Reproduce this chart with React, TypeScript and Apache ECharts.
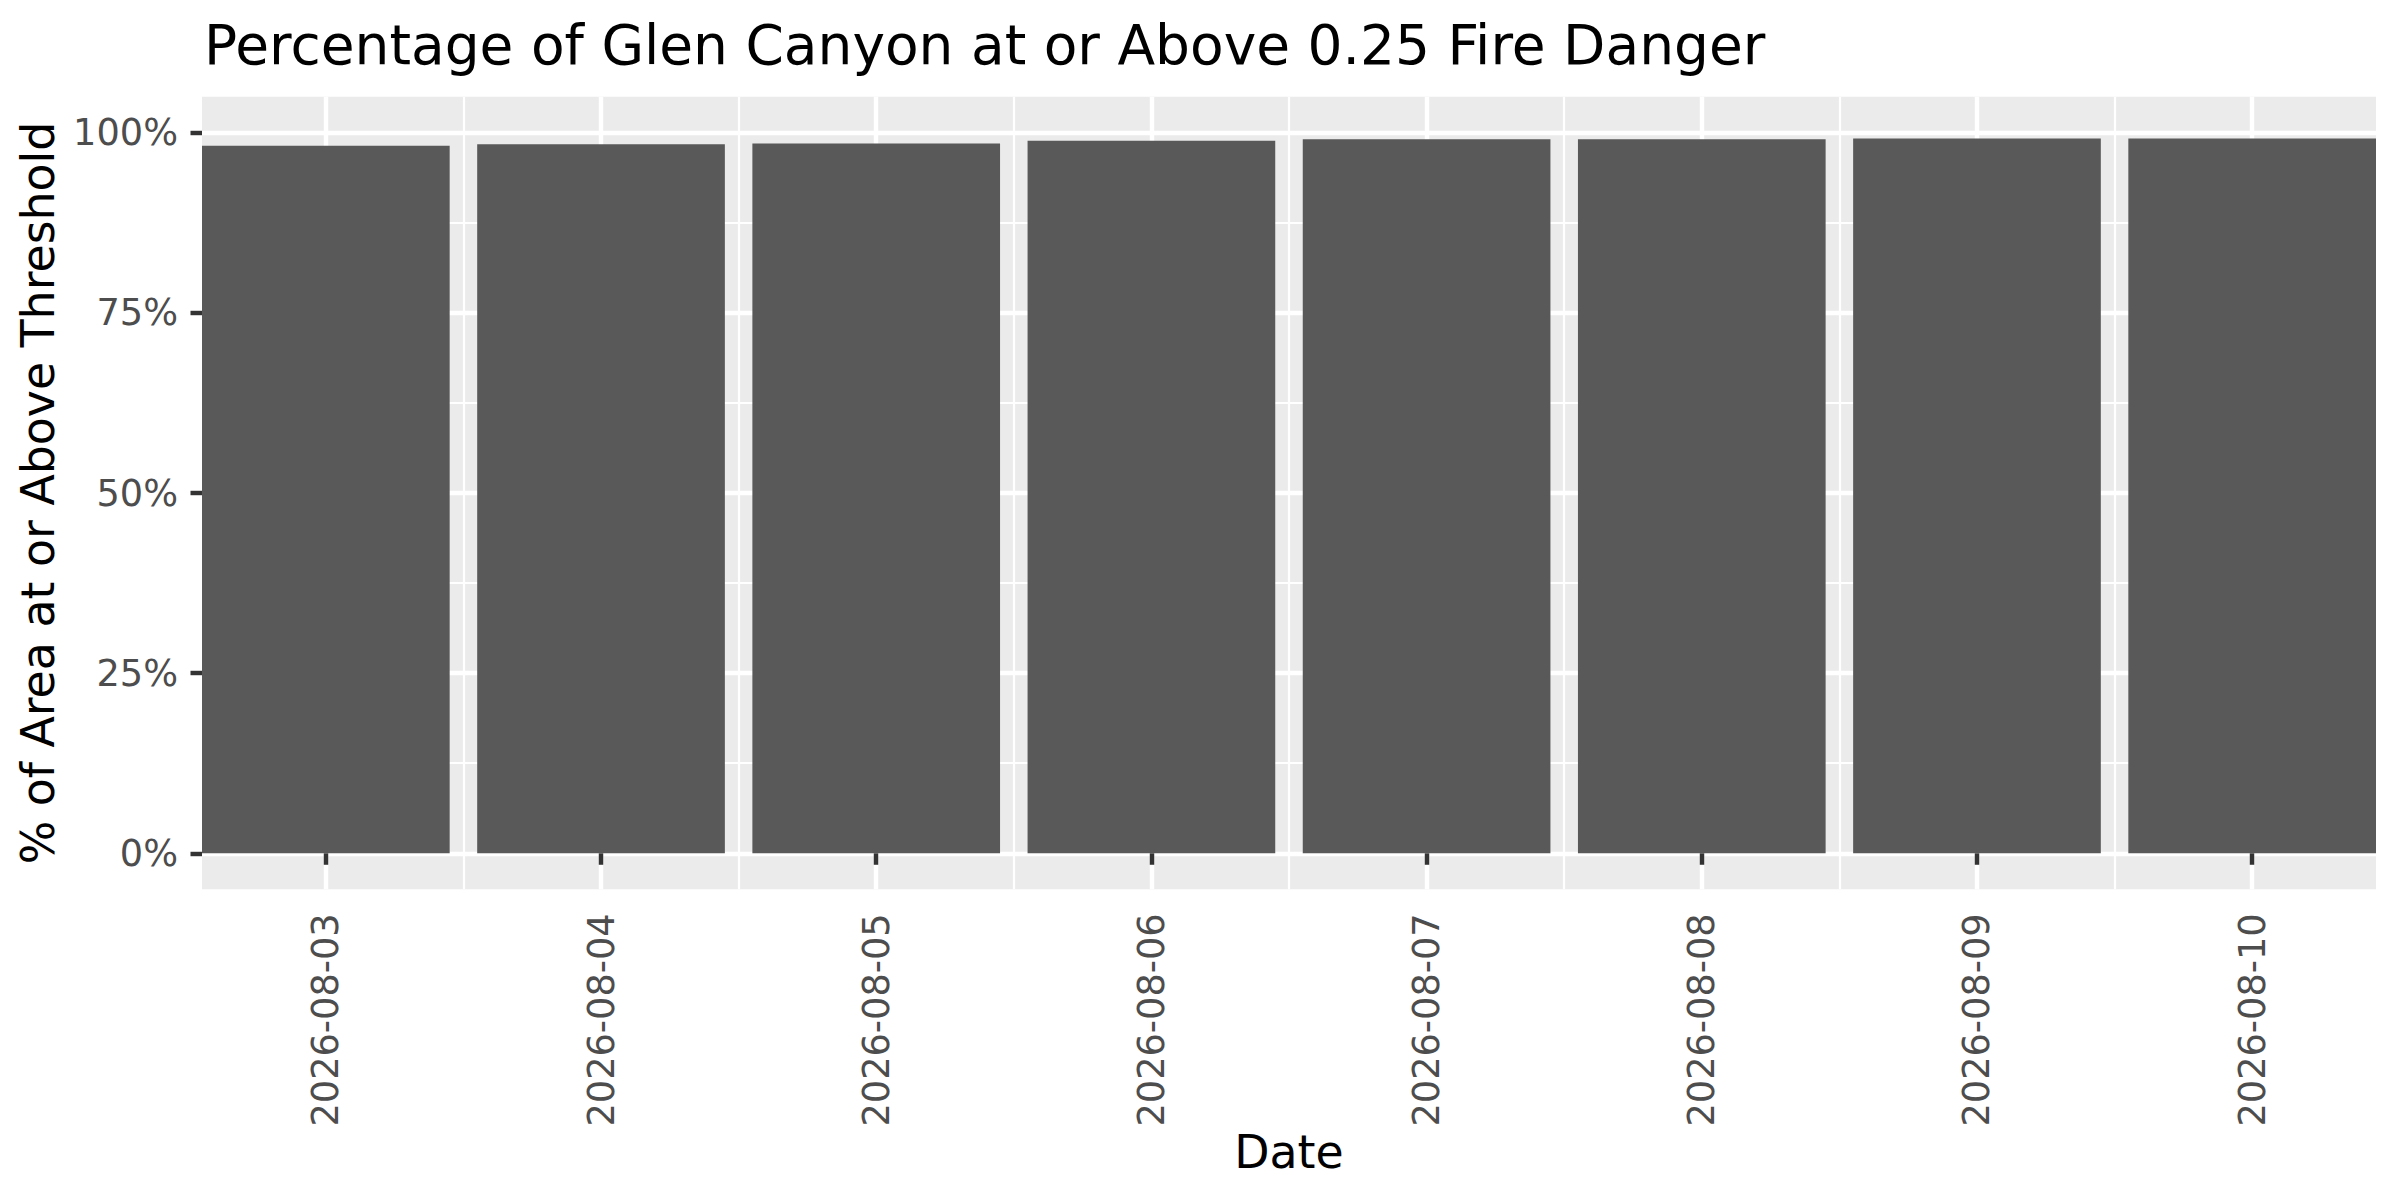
import React, { useEffect, useRef } from "react";
import * as echarts from "echarts";

const dates = [
  "2026-08-03",
  "2026-08-04",
  "2026-08-05",
  "2026-08-06",
  "2026-08-07",
  "2026-08-08",
  "2026-08-09",
  "2026-08-10",
];
const pctValues = [98.2, 98.4, 98.5, 98.9, 99.1, 99.1, 99.2, 99.2];
const yTickValues = [0, 25, 50, 75, 100];
const titleText = "Percentage of Glen Canyon at or Above 0.25 Fire Danger";
const xTitle = "Date";
const yTitle = "% of Area at or Above Threshold";

const FONT = "'DejaVu Sans', sans-serif";

export default function App() {
  const ref = useRef<HTMLDivElement>(null);
  useEffect(() => {
    if (!ref.current) return;
    const chart = echarts.init(ref.current, null, { renderer: "svg" });
    const positions = dates.map((_, i) => i + 1);
    chart.setOption({
      animation: false,
      backgroundColor: "#FFFFFF",
      title: {
        text: titleText,
        left: 199,
        top: 12,
        textStyle: { fontFamily: FONT, fontSize: 55, fontWeight: "normal", color: "#000000" },
      },
      grid: {
        left: 202,
        right: 24,
        top: 96.7,
        bottom: 310.7,
        show: true,
        backgroundColor: "#EBEBEB",
        borderWidth: 0,
      },
      xAxis: {
        type: "value",
        min: 0.55,
        max: 8.45,
        minInterval: 1,
        maxInterval: 1,
        axisLine: { show: false },
        axisTick: {
          show: true,
          length: 11.5,
          customValues: positions,
          lineStyle: { color: "#333333", width: 4.45 },
        },
        axisLabel: {
          customValues: positions,
          rotate: 90,
          margin: 24,
          fontFamily: FONT,
          fontSize: 36.7,
          color: "#4D4D4D",
          formatter: (v: number) => {
            const i = Math.round(v);
            return Math.abs(v - i) < 1e-6 && i >= 1 && i <= dates.length ? dates[i - 1] : "";
          },
        },
        splitLine: { show: true, lineStyle: { color: "#FFFFFF", width: 4.45 } },
        minorTick: { show: false, splitNumber: 2 },
        minorSplitLine: { show: true, lineStyle: { color: "#FFFFFF", width: 2.22 } },
      },
      yAxis: {
        type: "value",
        min: -5,
        max: 105,
        minInterval: 25,
        maxInterval: 25,
        axisLine: { show: false },
        axisTick: {
          show: true,
          length: 11.5,
          customValues: yTickValues,
          lineStyle: { color: "#333333", width: 4.45 },
        },
        axisLabel: {
          customValues: yTickValues,
          margin: 24,
          fontFamily: FONT,
          fontSize: 36.7,
          color: "#4D4D4D",
          formatter: (v: number) => `${v}%`,
        },
        splitLine: { show: true, lineStyle: { color: "#FFFFFF", width: 4.45 } },
        minorTick: { show: false, splitNumber: 2 },
        minorSplitLine: { show: true, lineStyle: { color: "#FFFFFF", width: 2.22 } },
      },
      graphic: [
        {
          type: "text",
          x: 37.5,
          y: 493,
          rotation: Math.PI / 2,
          style: {
            text: yTitle,
            fontFamily: FONT,
            fontSize: 45.8,
            fill: "#000000",
            align: "center",
            verticalAlign: "middle",
          },
        },
        {
          type: "text",
          x: 1289,
          y: 1152,
          style: {
            text: xTitle,
            fontFamily: FONT,
            fontSize: 45.8,
            fill: "#000000",
            align: "center",
            verticalAlign: "middle",
          },
        },
      ],
      series: [
        {
          type: "bar",
          data: pctValues.map((v, i) => [positions[i], v]),
          barWidth: "90%",
          itemStyle: { color: "#595959" },
          silent: true,
        },
      ],
    });
    return () => chart.dispose();
  }, []);
  return (
    <div
      ref={ref}
      style={{ position: "absolute", left: 0, top: 0, width: 2400, height: 1200 }}
    />
  );
}
